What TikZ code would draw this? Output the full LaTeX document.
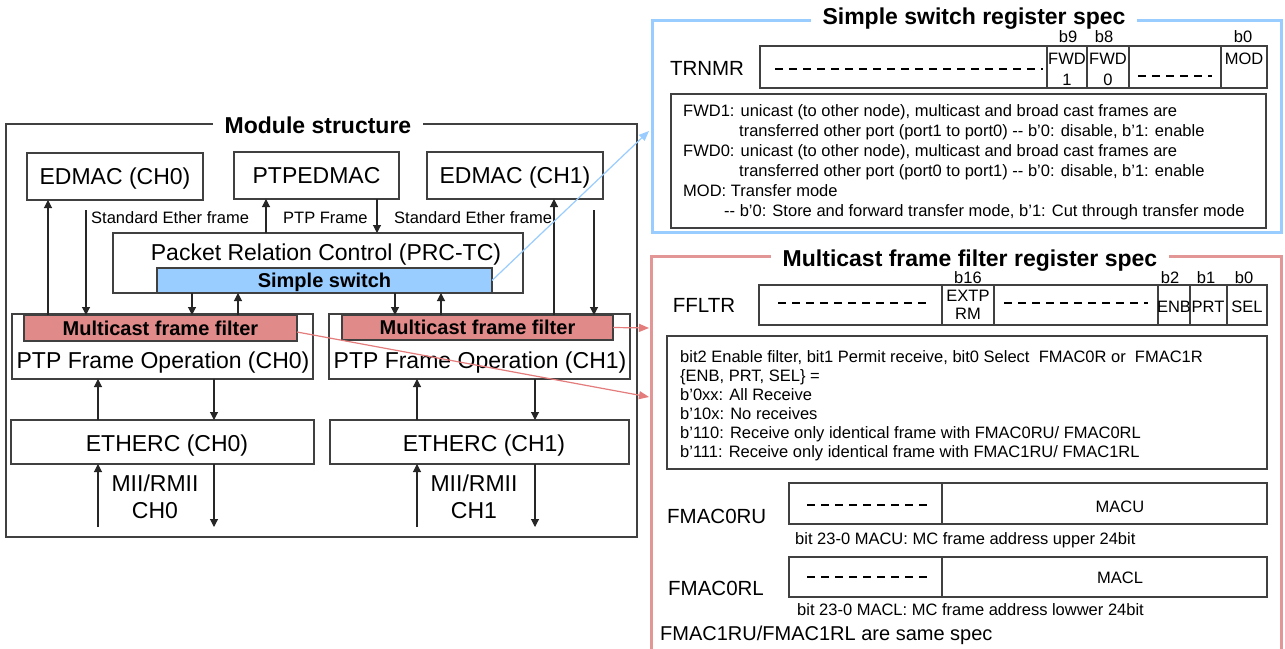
\documentclass[tikz,border=0pt]{standalone}
\usepackage{fontspec}
\setmainfont{Liberation Sans}
\usetikzlibrary{arrows.meta}
\definecolor{swblue}{HTML}{99CCFF}
\definecolor{fltred}{HTML}{E08A8A}
\definecolor{specred}{HTML}{E39696}
\definecolor{linered}{HTML}{E47C7C}
\definecolor{boxgray}{HTML}{404040}
\begin{document}
\begin{tikzpicture}[x=1pt,y=-1pt,
  blk/.style={draw=boxgray,line width=1.3pt,fill=white,inner sep=0pt,outer sep=0pt,anchor=north west},
  big/.style={font=\fontsize{23}{27}\selectfont,text height=16.5pt,text depth=0pt,inner sep=0pt},
  mid/.style={font=\fontsize{20.5}{24}\selectfont,text height=14.7pt,text depth=0pt,inner sep=0pt},
  sm/.style={font=\fontsize{16.5}{20}\selectfont,text height=11.8pt,text depth=0pt,inner sep=0pt},
  bsm/.style={font=\bfseries\fontsize{20}{24}\selectfont,text height=14.4pt,text depth=0pt,inner sep=0pt},
  ttl/.style={font=\bfseries\fontsize{23}{27}\selectfont,fill=white,inner xsep=12pt,inner ysep=0pt,text height=16.5pt,text depth=0pt},
  arr/.style={-{Triangle[length=8pt,width=8pt]},line width=1.1pt,draw=black!85},
  redarr/.style={-{Triangle[length=10pt,width=8pt]},line width=1.2pt,draw=linered},
  bluearr/.style={-{Triangle[length=10pt,width=8pt]},line width=1.2pt,draw=swblue},
  dsh/.style={line width=1.6pt,dash pattern=on 8pt off 6pt},
  reg/.style={draw=boxgray,line width=1.2pt}
]
\useasboundingbox (0,0) rectangle (1285,648);
\fill[white] (0,0) rectangle (1285,648);

% ---------------- Module structure ----------------
\node[blk,minimum width=631pt,minimum height=413pt] (mod) at (6,124) {};
\node[ttl] (modt) at (318,125) {Module structure};

\node[blk,big,minimum width=176pt,minimum height=47pt] (edm0) at (27,153) {EDMAC (CH0)};
\node[blk,big,minimum width=165pt,minimum height=47pt] (ptpe) at (234,152) {PTPEDMAC};
\node[blk,big,minimum width=176pt,minimum height=47pt] (edm1) at (427,152) {EDMAC (CH1)};

\node[blk,minimum width=410pt,minimum height=60pt] (prc) at (113,233) {};
\node[big] (prct) at (326,252) {Packet Relation Control (PRC-TC)};
\node[blk,bsm,fill=swblue,minimum width=335pt,minimum height=25pt] (sw) at (157,268) {Simple switch};

\node[blk,minimum width=301pt,minimum height=65pt] (pto0) at (12,314) {};
\node[blk,minimum width=301pt,minimum height=65pt] (pto1) at (329,314) {};
\node[blk,bsm,fill=fltred,minimum width=273pt,minimum height=26pt] (flt0) at (24,315) {Multicast frame filter};
\node[blk,bsm,fill=fltred,minimum width=271pt,minimum height=25pt] (flt1) at (342,315) {Multicast frame filter};
\node[big] (pto0t) at (163,360) {PTP Frame Operation (CH0)};
\node[big] (pto1t) at (480,360) {PTP Frame Operation (CH1)};

\node[blk,minimum width=303pt,minimum height=44pt] (eth0) at (11,420) {};
\node[blk,minimum width=299pt,minimum height=44pt] (eth1) at (330,420) {};
\node[big] (eth0t) at (167,443) {ETHERC (CH0)};
\node[big] (eth1t) at (484,443) {ETHERC (CH1)};

\node[big] (mii0a) at (155,483) {MII/RMII};
\node[big] (mii0b) at (155,510) {CH0};
\node[big] (mii1a) at (474,483) {MII/RMII};
\node[big] (mii1b) at (474,510) {CH1};

\node[sm,anchor=west] (lse0) at (91,218) {Standard Ether frame};
\node[sm,anchor=west] (lptp) at (283,218) {PTP Frame};
\node[sm,anchor=west] (lse1) at (394,218) {Standard Ether frame};

% column coordinates
\coordinate (c48) at (48,0);
\coordinate (c266) at (266,0);
\coordinate (c377) at (377,0);
\coordinate (c554) at (554,0);
\coordinate (c192) at (192,0);
\coordinate (c238) at (238,0);
\coordinate (c395) at (395,0);
\coordinate (c441) at (441,0);
\coordinate (c98) at (98,0);
\coordinate (c214) at (214,0);
\coordinate (c417) at (417,0);
\coordinate (c535) at (535,0);
\coordinate (s0) at (86,210);
\coordinate (s1) at (594,210);
\coordinate (b0u) at (98,527);
\coordinate (b0d) at (214,527);
\coordinate (b1u) at (417,527);
\coordinate (b1d) at (535,527);

\draw[arr] (flt0.north -| c48) -- (edm0.south -| c48);
\draw[arr] (s0) -- (flt0.north -| s0);
\draw[arr] (prc.north -| c266) -- (ptpe.south -| c266);
\draw[arr] (ptpe.south -| c377) -- (prc.north -| c377);
\draw[arr] (flt1.north -| c554) -- (edm1.south -| c554);
\draw[arr] (s1) -- (flt1.north -| s1);

\draw[arr] (prc.south -| c192) -- (flt0.north -| c192);
\draw[arr] (flt0.north -| c238) -- (prc.south -| c238);
\draw[arr] (prc.south -| c395) -- (flt1.north -| c395);
\draw[arr] (flt1.north -| c441) -- (prc.south -| c441);

\draw[arr] (eth0.north -| c98) -- (pto0.south -| c98);
\draw[arr] (pto0.south -| c214) -- (eth0.north -| c214);
\draw[arr] (eth1.north -| c417) -- (pto1.south -| c417);
\draw[arr] (pto1.south -| c535) -- (eth1.north -| c535);

\draw[arr] (b0u) -- (eth0.south -| b0u);
\draw[arr] (eth0.south -| b0d) -- (b0d);
\draw[arr] (b1u) -- (eth1.south -| b1u);
\draw[arr] (eth1.south -| b1d) -- (b1d);

% ---------------- Simple switch register spec ----------------
\draw[swblue,line width=3pt] (652,20) rectangle (1281,232);
\node[ttl] (sst) at (974,16) {Simple switch register spec};

\node[mid] (trn) at (707,68) {TRNMR};
\draw[reg] (760,46) rectangle (1267,88);
\draw[reg] (1047,46) -- (1047,88) (1087,46) -- (1087,88) (1129,46) -- (1129,88) (1221,46) -- (1221,88);
\draw[dsh] (775,69) -- (1043,69);
\draw[dsh] (1138,76) -- (1212,76);
\node[sm] (b9) at (1068,37) {b9};
\node[sm] (b8) at (1104,37) {b8};
\node[sm] (b0a) at (1243,37) {b0};
\node[sm] (fw1a) at (1067,59) {FWD};
\node[sm] (fw1b) at (1067,80) {1};
\node[sm] (fw0a) at (1108,59) {FWD};
\node[sm] (fw0b) at (1108,80) {0};
\node[sm] (mod0) at (1244,59) {MOD};

\draw[reg] (671,94) rectangle (1266,228);
\node[sm,anchor=west] (t1) at (683,111) {FWD1: unicast (to other node), multicast and broad cast frames are};
\node[sm,anchor=west] (t2) at (739,131) {transferred other port (port1 to port0) -{}- b’0: disable, b’1: enable};
\node[sm,anchor=west] (t3) at (683,151) {FWD0: unicast (to other node), multicast and broad cast frames are};
\node[sm,anchor=west] (t4) at (739,171) {transferred other port (port0 to port1) -{}- b’0: disable, b’1: enable};
\node[sm,anchor=west] (t5) at (683,191) {MOD: Transfer mode};
\node[sm,anchor=west] (t6) at (724,211) {-{}- b’0: Store and forward transfer mode, b’1: Cut through transfer mode};

% ---------------- Multicast frame filter register spec ----------------
\draw[specred,line width=3pt] (651,650) -- (651,256) -- (1281,256) -- (1281,650);
\node[ttl] (mft) at (970,258) {Multicast frame filter register spec};

\node[mid] (ffl) at (704,305) {FFLTR};
\draw[reg] (759,285) rectangle (1267,325);
\draw[reg] (942,285) -- (942,325) (994,285) -- (994,325) (1158,285) -- (1158,325) (1190,285) -- (1190,325) (1227,285) -- (1227,325);
\draw[dsh] (778,303) -- (930,303);
\draw[dsh] (1004,303) -- (1148,303);
\node[sm] (b16) at (968,278) {b16};
\node[sm] (b2) at (1170,278) {b2};
\node[sm] (b1) at (1206,278) {b1};
\node[sm] (b0b) at (1244,278) {b0};
\node[sm] (ex1) at (968,296) {EXTP};
\node[sm] (ex2) at (968,314) {RM};
\node[sm] (enb) at (1174,307) {ENB};
\node[sm] (prt) at (1208,307) {PRT};
\node[sm] (sel) at (1247,307) {SEL};

\draw[reg] (667,336) rectangle (1267,469);
\node[sm,anchor=west] (u1) at (680,357) {bit2 Enable filter, bit1 Permit receive, bit0 Select\ \ FMAC0R or\ \ FMAC1R};
\node[sm,anchor=west] (u2) at (680,376) {\{ENB, PRT, SEL\} =};
\node[sm,anchor=west] (u3) at (680,395) {b’0xx: All Receive};
\node[sm,anchor=west] (u4) at (680,414) {b’10x: No receives};
\node[sm,anchor=west] (u5) at (680,433) {b’110: Receive only identical frame with FMAC0RU/ FMAC0RL};
\node[sm,anchor=west] (u6) at (680,452) {b’111: Receive only identical frame with FMAC1RU/ FMAC1RL};

\node[mid,anchor=west] (fu) at (667,516) {FMAC0RU};
\draw[reg] (789,483) rectangle (1267,524);
\draw[reg] (942,483) -- (942,524);
\draw[dsh] (807,505) -- (932,505);
\node[sm] (macu) at (1120,507) {MACU};
\node[sm,anchor=west] (cu) at (795,539) {bit 23-0 MACU: MC frame address upper 24bit};

\node[mid,anchor=west] (fl) at (668,588) {FMAC0RL};
\draw[reg] (789,557) rectangle (1267,597);
\draw[reg] (942,557) -- (942,597);
\draw[dsh] (807,577) -- (932,577);
\node[sm] (macl) at (1120,578) {MACL};
\node[sm,anchor=west] (cl) at (797,610) {bit 23-0 MACL: MC frame address lowwer 24bit};

\node[font=\fontsize{20}{24}\selectfont,text height=14.4pt,text depth=0pt,inner sep=0pt,anchor=west] (same) at (660,633) {FMAC1RU/FMAC1RL are same spec};

% ---------------- connectors to specs ----------------
\coordinate (tb) at (649,131);
\coordinate (tr1) at (649,328);
\coordinate (tr2) at (649,397);
\draw[bluearr] (sw.east) -- (tb);
\draw[redarr] (flt1.east) -- (tr1);
\draw[redarr] ([yshift=-4pt]flt0.east) -- (tr2);
\end{tikzpicture}
\end{document}
